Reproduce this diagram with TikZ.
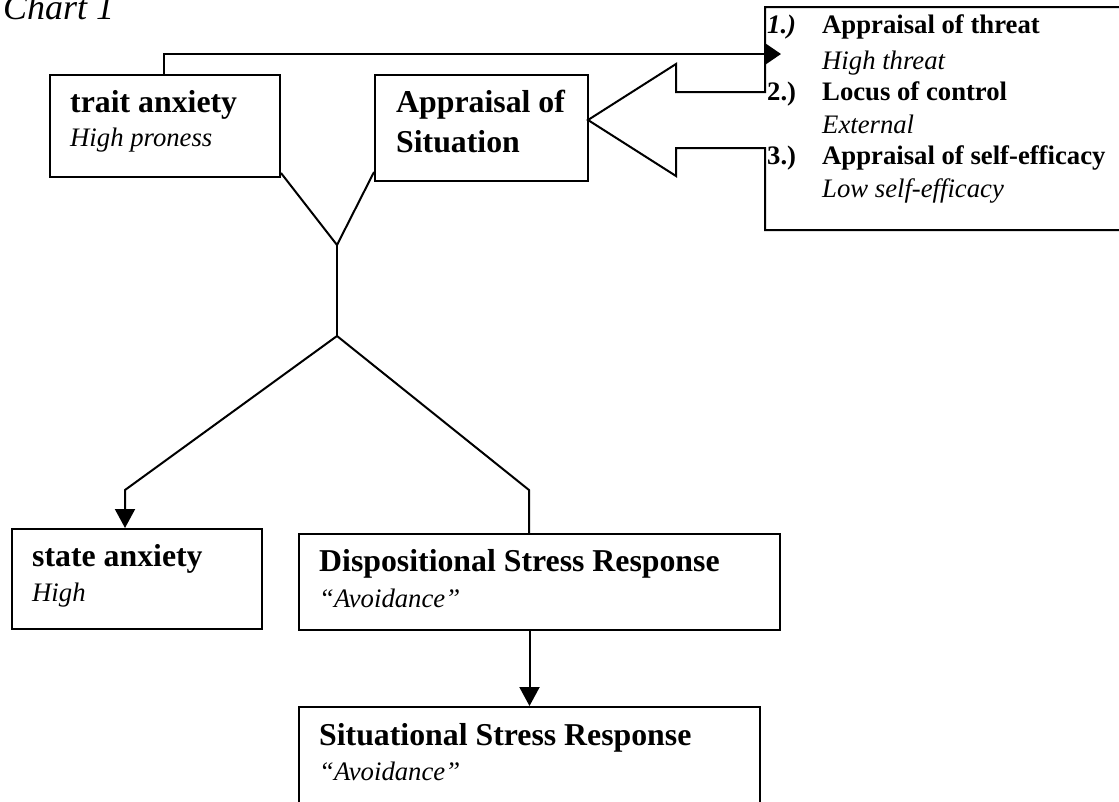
\documentclass[tikz,border=0pt]{standalone}
\usepackage{fontspec}
\setmainfont{Liberation Serif}
\usetikzlibrary{arrows.meta,calc}
\tikzset{
  box/.style={draw, line width=2pt, inner sep=0pt, anchor=north west},
  ttl/.style={anchor=base west, inner sep=0pt, font=\fontsize{31.8}{36}\selectfont\bfseries},
  sub/.style={anchor=base west, inner sep=0pt, font=\fontsize{26.7}{30}\selectfont\itshape},
  itm/.style={anchor=base west, inner sep=0pt, font=\fontsize{26.7}{30}\selectfont\bfseries},
  conn/.style={line width=2pt},
  arr/.style={line width=2pt, -{Triangle[length=19pt,width=20pt]}},
}
\begin{document}
\begin{tikzpicture}[x=1pt,y=-1pt]
\useasboundingbox (0,0) rectangle (1119,801);
\clip (0,0) rectangle (1119,801);
% title
\node[anchor=base west, inner sep=0pt, font=\fontsize{36}{40}\selectfont\itshape] (title) at (3,19) {Chart 1};
% boxes
\node[box, minimum width=230pt, minimum height=102pt] (trait) at (49,74) {};
\node[box, minimum width=213pt, minimum height=106pt] (appr) at (374,74) {};
\node[box, minimum width=250pt, minimum height=100pt] (state) at (11,528) {};
\node[box, minimum width=481pt, minimum height=96pt] (disp) at (298,533) {};
\node[box, minimum width=461pt, minimum height=120pt] (sit) at (298,706) {};
% callout list box with block arrow
\draw[line width=2pt] (765,148) -- (676,148) -- (676,176) -- (588,120) -- (676,64) -- (676,92) -- (765,92) -- (765,7) -- (1130,7) -- (1130,230) -- (765,230) -- cycle;
% texts
\node[ttl] (t1) at (70,112) {trait anxiety};
\node[sub] (t2) at (70,146) {High proness};
\node[ttl] (a1) at (396,112) {Appraisal of};
\node[ttl] (a2) at (396,152) {Situation};
\node[ttl] (s1) at (32,566) {state anxiety};
\node[sub] (s2) at (32,601) {High};
\node[ttl] (d1) at (319,571) {Dispositional Stress Response};
\node[sub] (d2) at (319,607) {“Avoidance”};
\node[ttl] (r1) at (319,745) {Situational Stress Response};
\node[sub] (r2) at (319,780) {“Avoidance”};
% list texts
\node[itm] (n1) at (767,33) {\itshape 1.)};
\node[itm] (l1) at (822,33) {Appraisal of threat};
\node[sub] (l1b) at (822,69) {High threat};
\node[itm] (n2) at (767,100) {2.)};
\node[itm] (l2) at (822,100) {Locus of control};
\node[sub] (l2b) at (822,133) {External};
\node[itm] (n3) at (767,164) {3.)};
\node[itm] (l3) at (822,164) {Appraisal of self-efficacy};
\node[sub] (l3b) at (822,197) {Low self-efficacy};
% coordinates
\coordinate (ta) at (164,54);
\coordinate (tip) at (781,54);
\coordinate (yj) at (337,245);
\coordinate (split) at (337,336);
\coordinate (bl) at (125,490);
\coordinate (br) at (529,490);
% connectors
\draw[line width=2pt, -{Triangle[length=15pt,width=20pt]}] (trait.north -| ta) -- (ta) -- (tip);
\draw[conn] ($(trait.south east)+(0,-5)$) -- (yj) -- ($(appr.south west)+(0,-10)$);
\draw[conn] (yj) -- (split);
\draw[arr] (split) -- (bl) -- (state.north -| bl);
\draw[conn] (split) -- (br) -- (disp.north -| br);
\draw[arr] (disp.south -| sit.north) -- (sit.north);
\end{tikzpicture}
\end{document}
